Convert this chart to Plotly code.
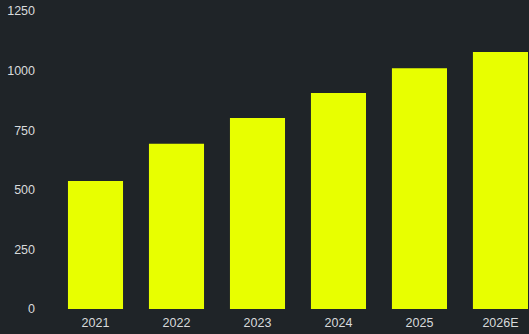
import plotly.graph_objects as go

categories = ["2021", "2022", "2023", "2024", "2025", "2026E"]
values = [537, 693, 801, 906, 1010, 1078]
y_ticks = [0, 250, 500, 750, 1000, 1250]

BG = "#1f2428"
BAR = "#e8ff00"
TXT = "#d8dadc"

fig = go.Figure(go.Bar(x=categories, y=values, marker=dict(color=BAR, line=dict(width=0)), width=0.68))

fig.update_layout(
    width=529, height=334,
    margin=dict(l=55, r=1, t=11, b=25),
    paper_bgcolor=BG, plot_bgcolor=BG,
    font=dict(family="Liberation Sans, Arial, sans-serif", size=12.5, color=TXT),
    showlegend=False,
)
fig.update_xaxes(type="category", range=[-0.5, 5.34], showgrid=False, zeroline=False,
                 showline=False, ticks="", ticklabelstandoff=4)
fig.update_yaxes(range=[0, 1250], tickvals=y_ticks, showgrid=False, zeroline=False,
                 showline=False, ticks="", ticklabelstandoff=19)

fig.write_html("out.html")
